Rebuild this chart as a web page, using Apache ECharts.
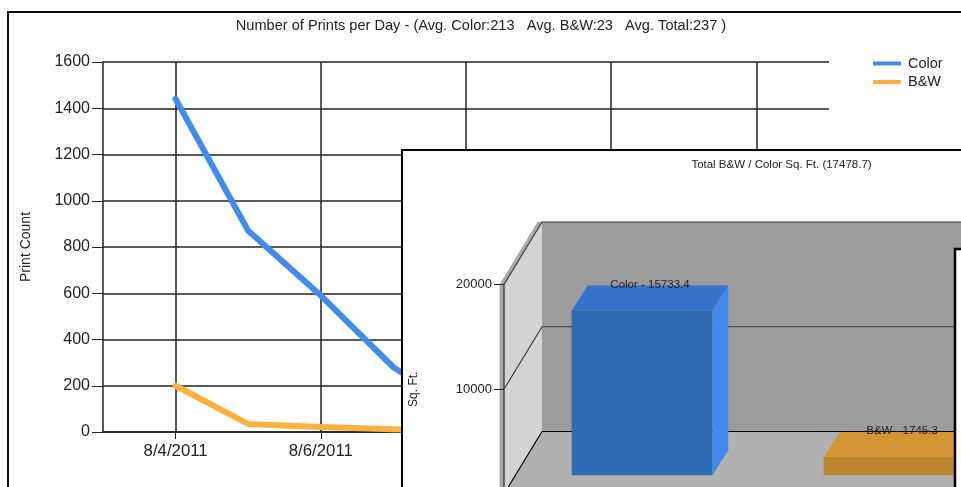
<!DOCTYPE html>
<html><head><meta charset="utf-8">
<style>html,body{margin:0;padding:0;background:#fff;overflow:hidden;width:961px;height:487px}#c{width:1100px;height:600px}</style>
<script src="https://cdn.jsdelivr.net/npm/echarts@6/dist/echarts.min.js"></script>
</head><body><div id="c"></div>
<script>
const days = ['8/3/2011','8/4/2011','8/5/2011','8/6/2011','8/7/2011','8/8/2011','8/9/2011','8/10/2011','8/11/2011','8/12/2011','8/13/2011'];
const colorPrints = [null,1440,870,590,280,80];
const bwPrints = [null,200,35,22,12,10];
const sqFtNames = ['Color','B&W'];
const sqFtValues = [15733.4,1745.3];
const sqFtTicks = [0,10000,20000];
const barFront = ['#2f6ab5','#b98530'];
const barTop = ['#3673cc','#d39534'];
const barSide = ['#418bef','#f0a93c'];

const FONT = '"Liberation Sans", Arial, sans-serif';
const INK = '#222';
const oddDay = i => i % 2 === 1;
const plain = v => String(v);
const WALL_DX = 38, WALL_DY = -62.5, BAR_DX = 12, BAR_DY = -18.7, BAR_DEPTH_X = 16, BAR_DEPTH_Y = -25;

function renderWalls(params, api) {
  const band = api.size([1, 0])[0];
  const x0 = api.coord([0, 0])[0] - band / 2;
  const x1 = x0 + band * 2;
  const y0 = api.coord([0, 0])[1];
  const yTop = api.coord([0, 20000])[1];
  const yEnd = y0 + 40;
  const kids = [
    {type:'rect', shape:{x:x0 + WALL_DX, y:yTop + WALL_DY, width:x1 - x0, height:y0 - yTop}, style:{fill:'#9c9c9c'}},
    {type:'polygon', shape:{points:[[x0 + WALL_DX, y0 + WALL_DY],[x1 + WALL_DX, y0 + WALL_DY],[x1 + WALL_DX, yEnd],[x0, yEnd],[x0, y0]]}, style:{fill:'#b0b0b0'}},
    {type:'polygon', shape:{points:[[x0, yTop],[x0 + WALL_DX, yTop + WALL_DY],[x0 + WALL_DX, y0 + WALL_DY],[x0, y0]]}, style:{fill:'#d3d3d3'}},
    {type:'polygon', shape:{points:[[x0 - 4.5, yTop],[x0 + WALL_DX - 4.5, yTop + WALL_DY],[x0 + WALL_DX, yTop + WALL_DY],[x0, yTop],[x0, yEnd],[x0 - 4.5, yEnd]]}, style:{fill:'#a9a9a9'}}
  ];
  sqFtTicks.forEach(v => {
    const y = api.coord([0, v])[1];
    const stroke = v === 0 ? '#000' : '#3a3a3a';
    kids.push({type:'polyline', shape:{points:[[x0, y],[x0 + WALL_DX, y + WALL_DY],[x1 + WALL_DX, y + WALL_DY]]}, style:{fill:null, stroke, lineWidth:1.2}});
  });
  return {type:'group', children:kids, silent:true};
}

function renderBar(params, api) {
  const i = api.value(0), v = api.value(1);
  const band = api.size([1, 0])[0];
  const half = band * 0.279;
  const c = api.coord([i, v]), b = api.coord([i, 0]);
  const l = c[0] - half + BAR_DX, r = c[0] + half + BAR_DX;
  const t = c[1] + BAR_DY, u = b[1] + BAR_DY;
  const dx = BAR_DEPTH_X, dy = BAR_DEPTH_Y;
  return {type:'group', silent:true, children:[
    {type:'polygon', shape:{points:[[r,t],[r+dx,t+dy],[r+dx,u+dy],[r,u]]}, style:{fill:barSide[i]}},
    {type:'polygon', shape:{points:[[l,t],[l+dx,t+dy],[r+dx,t+dy],[r,t]]}, style:{fill:barTop[i]}},
    {type:'rect', shape:{x:l, y:t, width:r-l, height:u-t}, style:{fill:barFront[i]}},
    {type:'text', style:{text:sqFtNames[i] + ' - ' + v, x:(l+r)/2 + 8, y:t + dy - 1, fill:INK, font:'11.5px ' + FONT, align:'center', verticalAlign:'middle'}}
  ]};
}

const chart = echarts.init(document.getElementById('c'), null, {renderer:'canvas'});
chart.setOption({
  animation:false,
  backgroundColor:'#fff',
  textStyle:{fontFamily:FONT},
  title:[
    {text:'Number of Prints per Day - (Avg. Color:213   Avg. B&W:23   Avg. Total:237 )', left:476, top:13, textAlign:'center', textStyle:{fontSize:14.6, fontWeight:'normal', color:INK, fontFamily:FONT}, z:3},
    {text:'Total B&W / Color Sq. Ft. (17478.7)', left:776.5, top:154, textAlign:'center', textStyle:{fontSize:11.5, fontWeight:'normal', color:INK, fontFamily:FONT}, z:50}
  ],
  legend:{
    data:['Color','B&W'], orient:'vertical', left:868, top:51, itemWidth:28, itemHeight:4, itemGap:3.5, icon:'rect',
    textStyle:{fontSize:14.5, color:INK, fontFamily:FONT, padding:[0,0,0,2]}, selectedMode:false, z:3
  },
  grid:[
    {left:103, top:62, width:726, height:370},
    {left:504, top:284.5, width:504, height:209.5}
  ],
  xAxis:[
    {type:'category', gridIndex:0, data:days, boundaryGap:false,
     axisLine:{lineStyle:{color:INK, width:1.5}},
     axisTick:{interval:oddDay, length:7, lineStyle:{color:INK}},
     axisLabel:{interval:oddDay, fontSize:16.8, color:INK, margin:11, fontFamily:FONT, hideOverlap:false},
     splitLine:{show:true, interval:oddDay, lineStyle:{color:INK, width:1.5}}},
    {type:'category', gridIndex:1, data:sqFtNames, show:false}
  ],
  yAxis:[
    {type:'value', gridIndex:0, min:0, max:1600, interval:200, name:'Print Count', nameLocation:'middle', nameGap:70,
     nameTextStyle:{fontSize:14, color:INK, fontFamily:FONT},
     axisLine:{show:true, lineStyle:{color:INK, width:1.5}},
     axisTick:{show:true, length:11, lineStyle:{color:INK}},
     axisLabel:{fontSize:16, color:INK, margin:13, fontFamily:FONT, formatter:plain},
     splitLine:{show:true, lineStyle:{color:INK, width:1.5}}},
    {type:'value', gridIndex:1, min:0, max:20000, interval:10000, name:'Sq. Ft.', nameLocation:'middle', nameGap:84, z:30,
     nameTextStyle:{fontSize:12, color:INK, fontFamily:FONT},
     axisLine:{show:true, lineStyle:{color:'#444', width:1.5}},
     axisTick:{show:true, length:10, lineStyle:{color:INK}},
     axisLabel:{fontSize:13, color:INK, margin:12, fontFamily:FONT, formatter:plain},
     splitLine:{show:false}}
  ],
  graphic:[
    {type:'rect', z:-1, silent:true, shape:{x:8, y:12, width:1080, height:570}, style:{fill:null, stroke:'#111', lineWidth:2}},
    {type:'rect', z:10, silent:true, shape:{x:402, y:150, width:680, height:440}, style:{fill:'#fff', stroke:'#000', lineWidth:2}},
    {type:'rect', z:45, silent:true, shape:{x:955, y:249, width:120, height:340}, style:{fill:'#fff', stroke:'#000', lineWidth:2.5}}
  ],
  series:[
    {name:'Color', type:'line', xAxisIndex:0, yAxisIndex:0, data:colorPrints, showSymbol:false, symbol:'none', z:5,
     lineStyle:{color:'#418bef', width:6, cap:'round', join:'round'}, itemStyle:{color:'#418bef'}},
    {name:'B&W', type:'line', xAxisIndex:0, yAxisIndex:0, data:bwPrints, showSymbol:false, symbol:'none', z:5,
     lineStyle:{color:'#ffb140', width:6, cap:'round', join:'round'}, itemStyle:{color:'#ffb140'}},
    {type:'custom', xAxisIndex:1, yAxisIndex:1, data:[[0,0]], renderItem:renderWalls, z:15, silent:true, clip:false, encode:{x:0,y:1}},
    {type:'custom', xAxisIndex:1, yAxisIndex:1, data:sqFtValues.map((v,i)=>[i,v]), renderItem:renderBar, z:25, silent:true, clip:false, encode:{x:0,y:1}}
  ]
});
</script></body></html>
